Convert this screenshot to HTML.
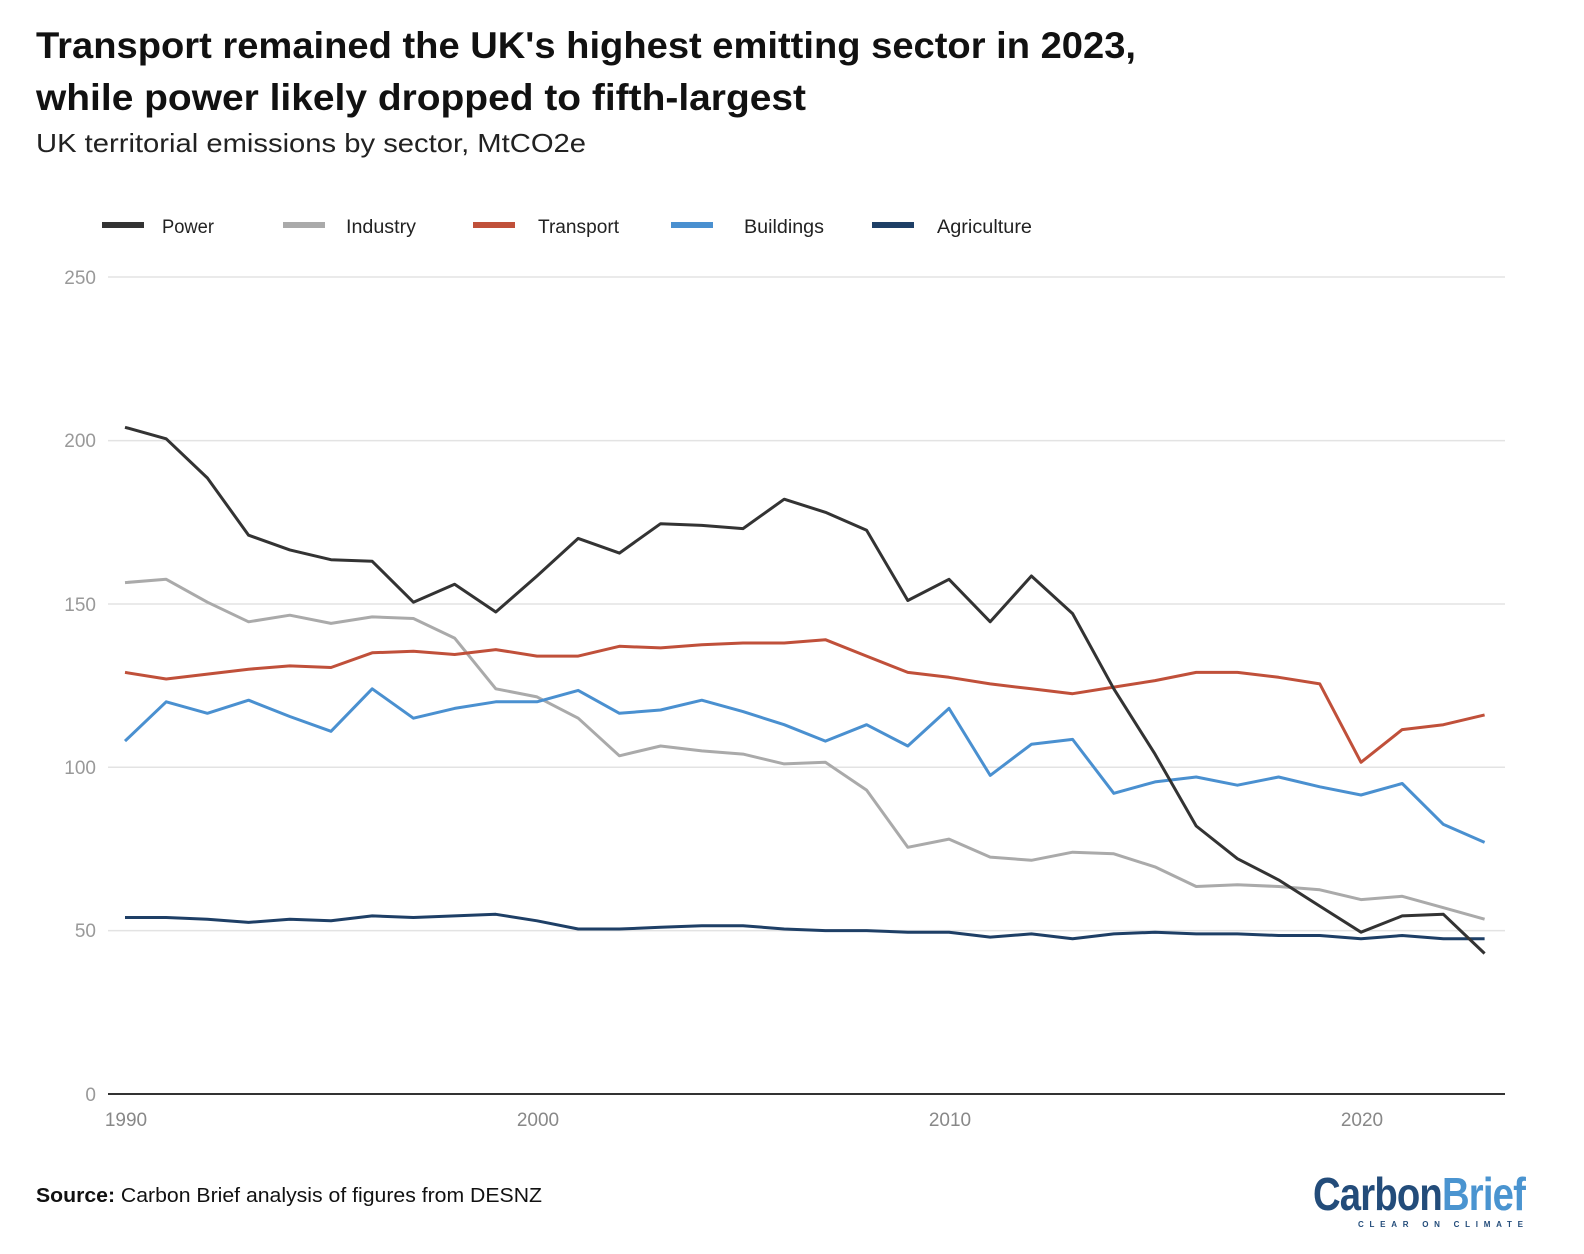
<!DOCTYPE html>
<html><head><meta charset="utf-8"><style>body{margin:0;background:#fff}svg{display:block}</style></head><body>
<svg width="1584" height="1254" xmlns="http://www.w3.org/2000/svg" font-family="Liberation Sans, sans-serif">
<text x="36" y="58" font-size="37" font-weight="bold" fill="#111" textLength="1100" lengthAdjust="spacingAndGlyphs">Transport remained the UK's highest emitting sector in 2023,</text>
<text x="36" y="110" font-size="37" font-weight="bold" fill="#111" textLength="770" lengthAdjust="spacingAndGlyphs">while power likely  dropped to fifth-largest</text>
<text x="36" y="152" font-size="26" fill="#222" textLength="550" lengthAdjust="spacingAndGlyphs">UK territorial emissions by sector, MtCO2e</text>
<g stroke-width="6">
<line x1="102" y1="225" x2="144" y2="225" stroke="#333"/>
<line x1="283" y1="225" x2="325" y2="225" stroke="#aaa"/>
<line x1="473" y1="225" x2="515" y2="225" stroke="#c0503a"/>
<line x1="671" y1="225" x2="713" y2="225" stroke="#4a90d0"/>
<line x1="872" y1="225" x2="914" y2="225" stroke="#1e3f66"/>
</g>
<g font-size="19" fill="#222">
<text x="162" y="233" textLength="52" lengthAdjust="spacingAndGlyphs">Power</text>
<text x="346" y="233" textLength="70" lengthAdjust="spacingAndGlyphs">Industry</text>
<text x="538" y="233" textLength="81" lengthAdjust="spacingAndGlyphs">Transport</text>
<text x="744" y="233" textLength="80" lengthAdjust="spacingAndGlyphs">Buildings</text>
<text x="937" y="233" textLength="95" lengthAdjust="spacingAndGlyphs">Agriculture</text>
</g>
<g stroke="#e3e3e3" stroke-width="1.5">
<line x1="108" y1="277" x2="1505" y2="277"/>
<line x1="108" y1="440.6" x2="1505" y2="440.6"/>
<line x1="108" y1="604" x2="1505" y2="604"/>
<line x1="108" y1="767.2" x2="1505" y2="767.2"/>
<line x1="108" y1="930.6" x2="1505" y2="930.6"/>
</g>
<line x1="108" y1="1094" x2="1505" y2="1094" stroke="#333" stroke-width="2"/>
<g font-size="19" fill="#999" text-anchor="end">
<text x="96" y="284">250</text><text x="96" y="447">200</text><text x="96" y="611">150</text>
<text x="96" y="774">100</text><text x="96" y="937">50</text><text x="96" y="1101">0</text>
</g>
<g font-size="19" fill="#888" text-anchor="middle">
<text x="126" y="1126">1990</text><text x="538" y="1126">2000</text><text x="950" y="1126">2010</text><text x="1362" y="1126">2020</text>
</g>
<g id="lines" fill="none" stroke-width="3" stroke-linejoin="round"></g>
<text x="36" y="1202" font-size="20" fill="#111" textLength="506" lengthAdjust="spacingAndGlyphs"><tspan font-weight="bold">Source:</tspan> Carbon Brief analysis of figures from DESNZ</text>
<text x="1313" y="1210" font-size="46" font-weight="bold" textLength="212" lengthAdjust="spacingAndGlyphs" letter-spacing="-1"><tspan fill="#234c7a">Carbon</tspan><tspan fill="#4a94d0">Brief</tspan></text>
<text x="1358" y="1227" font-size="8" font-weight="bold" fill="#234c7a" textLength="165" lengthAdjust="spacing">CLEAR ON CLIMATE</text>
</svg>
<script>
var d={"#aaa":[156.5,157.5,150.5,144.5,146.5,144,146,145.5,139.5,124,121.5,115,103.5,106.5,105,104,101,101.5,93,75.5,78,72.5,71.5,74,73.5,69.5,63.5,64,63.5,62.5,59.5,60.5,57,53.5],
"#c0503a":[129,127,128.5,130,131,130.5,135,135.5,134.5,136,134,134,137,136.5,137.5,138,138,139,134,129,127.5,125.5,124,122.5,124.5,126.5,129,129,127.5,125.5,101.5,111.5,113,116],
"#4a90d0":[108,120,116.5,120.5,115.5,111,124,115,118,120,120,123.5,116.5,117.5,120.5,117,113,108,113,106.5,118,97.5,107,108.5,92,95.5,97,94.5,97,94,91.5,95,82.5,77],
"#1e3f66":[54,54,53.5,52.5,53.5,53,54.5,54,54.5,55,53,50.5,50.5,51,51.5,51.5,50.5,50,50,49.5,49.5,48,49,47.5,49,49.5,49,49,48.5,48.5,47.5,48.5,47.5,47.5],
"#333":[204,200.5,188.5,171,166.5,163.5,163,150.5,156,147.5,158.5,170,165.5,174.5,174,173,182,178,172.5,151,157.5,144.5,158.5,147,124,104,82,72,65.5,57.5,49.5,54.5,55,43]};
var g=document.getElementById("lines"),h="";
for(var c in d){var p=d[c].map(function(v,i){return (125+i*41.2).toFixed(1)+","+(1094-v*3.268).toFixed(1)}).join(" ");
h+='<polyline stroke="'+c+'" points="'+p+'"/>';}
g.innerHTML=h;
</script>
</body></html>
